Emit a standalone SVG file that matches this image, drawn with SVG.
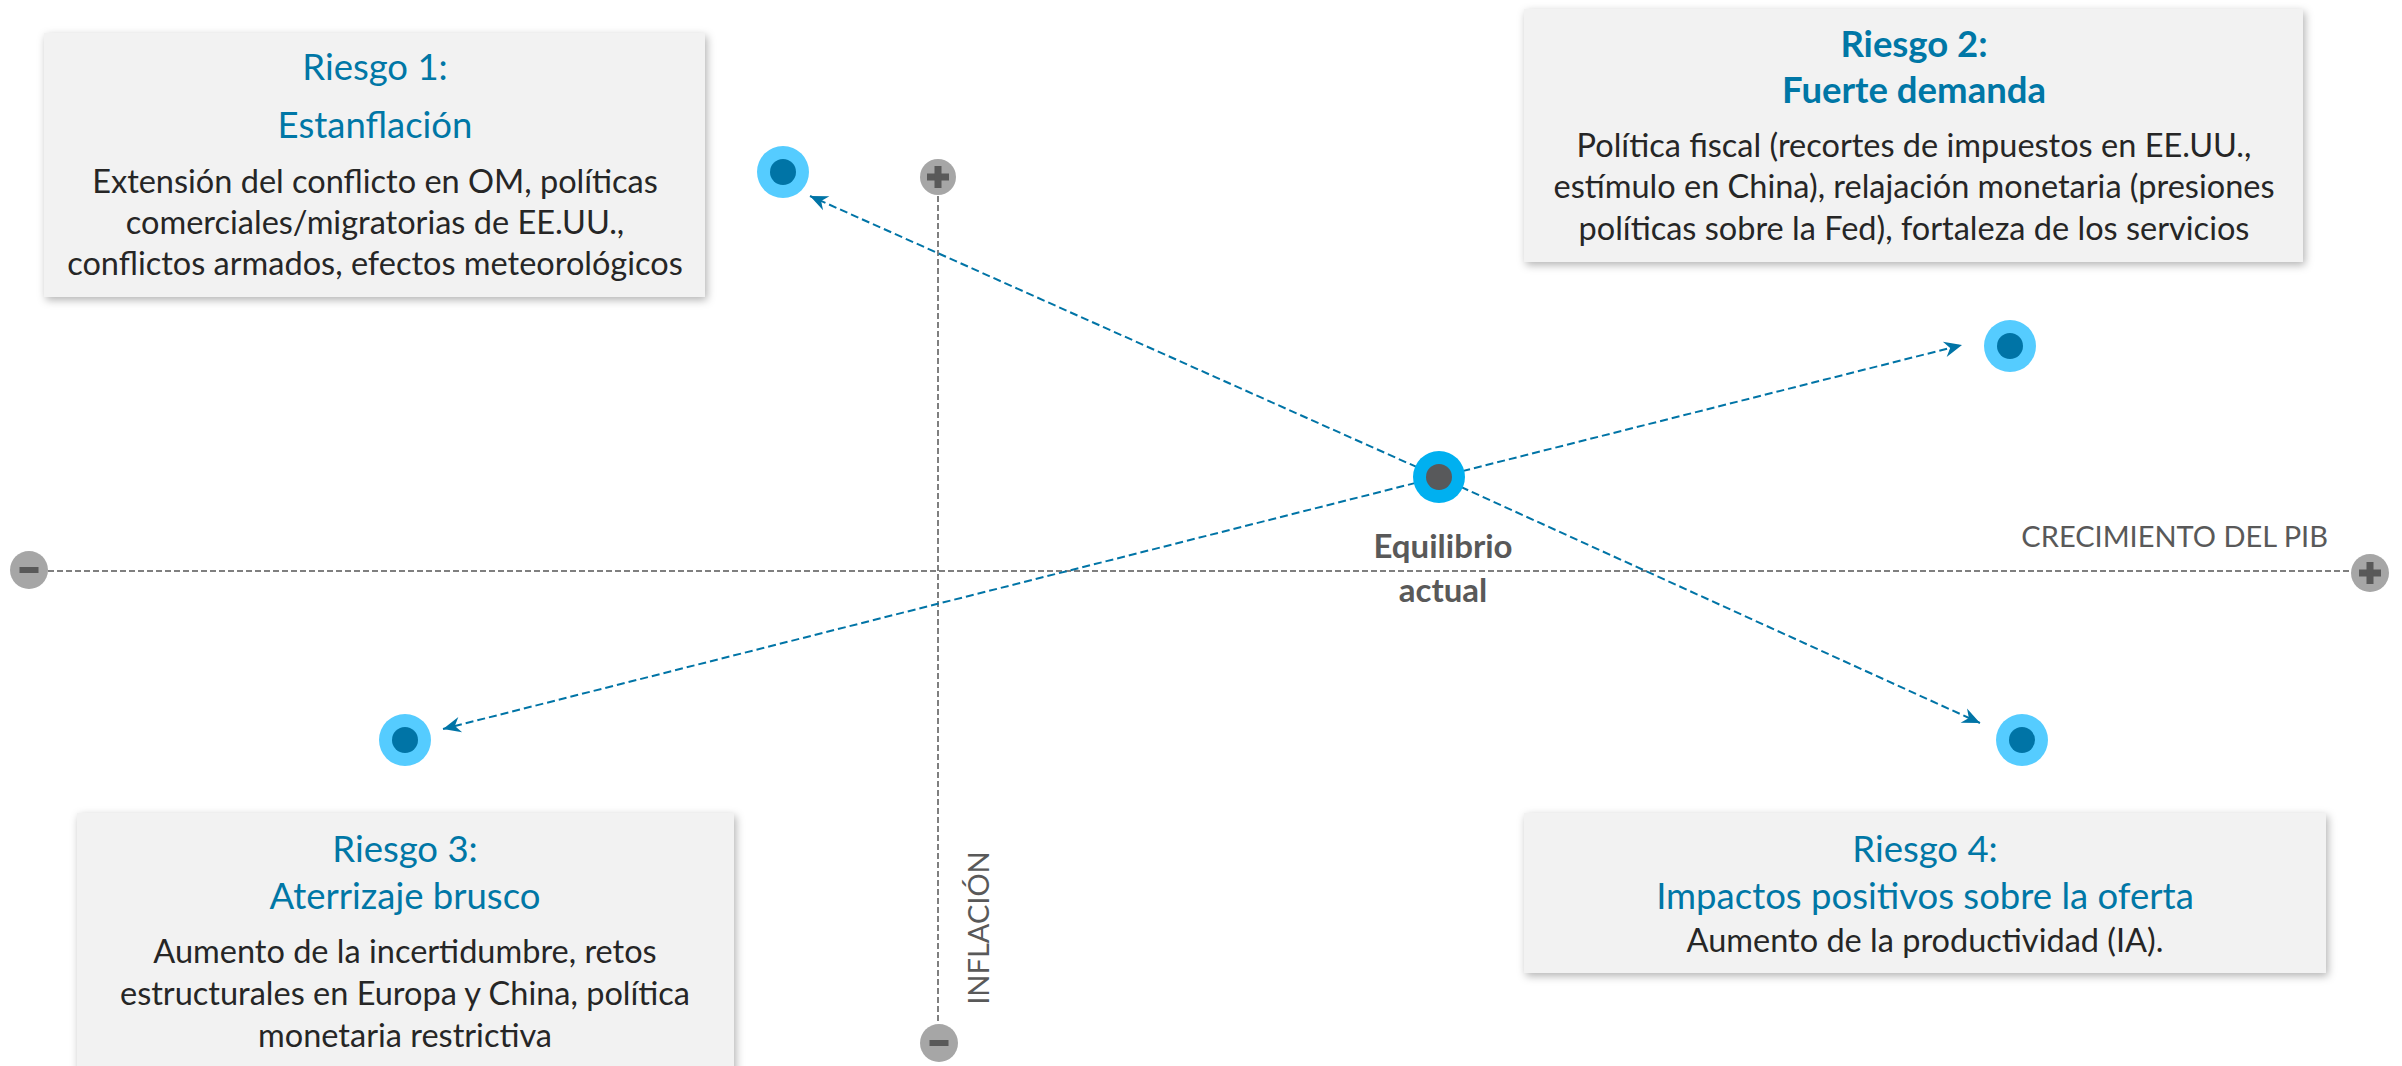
<svg xmlns="http://www.w3.org/2000/svg" width="2402" height="1066" viewBox="0 0 2402 1066">
<style>
  .box{fill:#F2F2F2;filter:url(#sh);}
  .t{font-family:Lato,"Liberation Sans",sans-serif;text-anchor:middle;}
  .ttl{font-size:36.5px;fill:#0077A6;}
  .b{font-weight:bold;}
  .body{font-size:32.5px;fill:#262626;}
  .axl{font-family:Lato,"Liberation Sans",sans-serif;font-size:29px;fill:#595959;}
  .axis{stroke:#7F7F7F;stroke-width:2;stroke-dasharray:6 3;fill:none;}
  .conn{stroke:#0074A6;stroke-width:2;stroke-dasharray:8 4;fill:none;marker-end:url(#ah);}
  .outer{fill:#55CCFF;}
  .inner{fill:#0074A6;}
  .pm{fill:#A6A6A6;}
  .sym{fill:#595959;}
</style>
<defs>
  <filter id="sh" x="-5%" y="-5%" width="110%" height="115%">
    <feDropShadow dx="2" dy="3" stdDeviation="4" flood-color="#000" flood-opacity="0.3"/>
  </filter>
  <marker id="ah" markerUnits="userSpaceOnUse" markerWidth="20" markerHeight="20" viewBox="-17 -8 18 16" refX="0" refY="0" orient="auto">
    <path d="M0,0 L-16,-7 L-11,0 L-16,7 Z" fill="#0074A6"/>
  </marker>
</defs>

<rect width="2402" height="1066" fill="#FFFFFF"/>

<g id="axes">
  <line class="axis" x1="48" y1="571" x2="2351" y2="571"/>
  <line class="axis" x1="938" y1="196" x2="938" y2="1024"/>
  <text class="axl" x="2328" y="547" text-anchor="end">CRECIMIENTO DEL PIB</text>
  <text class="axl" transform="translate(989,928) rotate(-90)" text-anchor="middle">INFLACIÓN</text>
</g>

<g id="axis-minus-x">
  <circle class="pm" cx="29" cy="570" r="19"/>
  <rect class="sym" x="19.5" y="567" width="19" height="6"/>
</g>
<g id="axis-plus-x">
  <circle class="pm" cx="2370" cy="573" r="19"/>
  <rect class="sym" x="2359" y="569.5" width="22" height="7"/>
  <rect class="sym" x="2366.5" y="562" width="7" height="22"/>
</g>
<g id="axis-plus-y">
  <circle class="pm" cx="938" cy="177" r="18"/>
  <rect class="sym" x="927" y="173.5" width="22" height="7"/>
  <rect class="sym" x="934.5" y="166" width="7" height="22"/>
</g>
<g id="axis-minus-y">
  <circle class="pm" cx="939" cy="1043" r="19"/>
  <rect class="sym" x="929.5" y="1040" width="19" height="6"/>
</g>

<g id="connectors">
  <line class="conn" x1="1439" y1="477" x2="810" y2="196"/>
  <line class="conn" x1="1439" y1="477" x2="1962" y2="345"/>
  <line class="conn" x1="1439" y1="477" x2="443" y2="729"/>
  <line class="conn" x1="1439" y1="477" x2="1980" y2="723"/>
</g>

<g id="node-equilibrio">
  <circle cx="1439" cy="477" r="26" fill="#00B0F0"/>
  <circle cx="1439" cy="477" r="13" fill="#58595B"/>
  <text class="t b" x="1443" y="558" font-size="33" fill="#595959">Equilibrio</text>
  <text class="t b" x="1443" y="602" font-size="33" fill="#595959">actual</text>
</g>

<g id="point-r1"><circle class="outer" cx="783" cy="172" r="26"/><circle class="inner" cx="783" cy="172" r="13"/></g>
<g id="point-r2"><circle class="outer" cx="2010" cy="346" r="26"/><circle class="inner" cx="2010" cy="346" r="13"/></g>
<g id="point-r3"><circle class="outer" cx="405" cy="740" r="26"/><circle class="inner" cx="405" cy="740" r="13"/></g>
<g id="point-r4"><circle class="outer" cx="2022" cy="740" r="26"/><circle class="inner" cx="2022" cy="740" r="13"/></g>

<g id="box-riesgo1">
  <rect class="box" x="44" y="33" width="661" height="264"/>
  <text class="t ttl" x="375" y="80">Riesgo 1:</text>
  <text class="t ttl" x="375" y="138">Estanflación</text>
  <text class="t body" x="375" y="193">Extensión del conflicto en OM, políticas</text>
  <text class="t body" x="375" y="234">comerciales/migratorias de EE.UU.,</text>
  <text class="t body" x="375" y="275">conflictos armados, efectos meteorológicos</text>
</g>

<g id="box-riesgo2">
  <rect class="box" x="1524" y="9" width="779" height="253"/>
  <text class="t ttl b" x="1914" y="57" font-size="37">Riesgo 2:</text>
  <text class="t ttl b" x="1914" y="103" font-size="37">Fuerte demanda</text>
  <text class="t body" x="1914" y="157">Política fiscal (recortes de impuestos en EE.UU.,</text>
  <text class="t body" x="1914" y="198">estímulo en China), relajación monetaria (presiones</text>
  <text class="t body" x="1914" y="240">políticas sobre la Fed), fortaleza de los servicios</text>
</g>

<g id="box-riesgo3">
  <rect class="box" x="77" y="813" width="657" height="270"/>
  <text class="t ttl" x="405" y="862">Riesgo 3:</text>
  <text class="t ttl" x="405" y="909">Aterrizaje brusco</text>
  <text class="t body" x="405" y="963">Aumento de la incertidumbre, retos</text>
  <text class="t body" x="405" y="1005">estructurales en Europa y China, política</text>
  <text class="t body" x="405" y="1047">monetaria restrictiva</text>
</g>

<g id="box-riesgo4">
  <rect class="box" x="1524" y="813" width="802" height="160"/>
  <text class="t ttl" x="1925" y="862">Riesgo 4:</text>
  <text class="t ttl" x="1925" y="909" font-size="38.5">Impactos positivos sobre la oferta</text>
  <text class="t body" x="1925" y="952">Aumento de la productividad (IA).</text>
</g>
</svg>
